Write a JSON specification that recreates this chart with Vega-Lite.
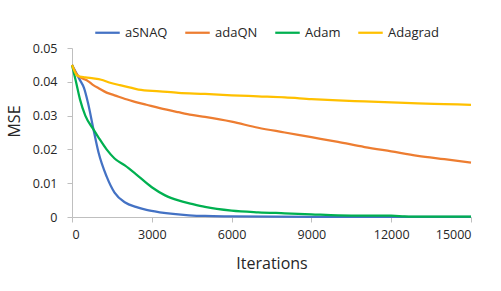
{
  "$schema": "https://vega.github.io/schema/vega-lite/v6.json",
  "width": 399,
  "height": 169,
  "autosize": {"type": "none"},
  "padding": {"left": 72, "top": 48, "right": 30, "bottom": 74},
  "background": "white",
  "config": {
    "view": {"stroke": null},
    "font": "Open Sans",
    "axis": {
      "domainColor": "#BFBFBF",
      "tickColor": "#BFBFBF",
      "domainWidth": 1,
      "tickWidth": 1,
      "tickSize": 5,
      "grid": false,
      "labelFont": "Open Sans",
      "labelFontSize": 12.5,
      "labelColor": "#262626",
      "titleFont": "Open Sans",
      "titleFontSize": 16,
      "titleFontWeight": "normal",
      "titleColor": "#262626"
    }
  },
  "data": {
    "values": [
      {"s": "aSNAQ", "x": 0, "y": 0.045},
      {"s": "aSNAQ", "x": 300, "y": 0.0405},
      {"s": "aSNAQ", "x": 450, "y": 0.0382},
      {"s": "aSNAQ", "x": 600, "y": 0.0338},
      {"s": "aSNAQ", "x": 800, "y": 0.0262},
      {"s": "aSNAQ", "x": 1000, "y": 0.019},
      {"s": "aSNAQ", "x": 1300, "y": 0.012},
      {"s": "aSNAQ", "x": 1600, "y": 0.0072},
      {"s": "aSNAQ", "x": 2000, "y": 0.0043},
      {"s": "aSNAQ", "x": 2400, "y": 0.003},
      {"s": "aSNAQ", "x": 2800, "y": 0.0021},
      {"s": "aSNAQ", "x": 3300, "y": 0.0014},
      {"s": "aSNAQ", "x": 3800, "y": 0.0009},
      {"s": "aSNAQ", "x": 4400, "y": 0.0005},
      {"s": "aSNAQ", "x": 5000, "y": 0.0003},
      {"s": "aSNAQ", "x": 6000, "y": 0.0002},
      {"s": "aSNAQ", "x": 7500, "y": 0.0001},
      {"s": "aSNAQ", "x": 9000, "y": 0.00005},
      {"s": "aSNAQ", "x": 11000, "y": 0.00003},
      {"s": "aSNAQ", "x": 13000, "y": 0.00002},
      {"s": "aSNAQ", "x": 15000, "y": 0.00001},

      {"s": "adaQN", "x": 0, "y": 0.045},
      {"s": "adaQN", "x": 200, "y": 0.042},
      {"s": "adaQN", "x": 400, "y": 0.041},
      {"s": "adaQN", "x": 600, "y": 0.0402},
      {"s": "adaQN", "x": 800, "y": 0.039},
      {"s": "adaQN", "x": 1000, "y": 0.0381},
      {"s": "adaQN", "x": 1300, "y": 0.0368},
      {"s": "adaQN", "x": 1600, "y": 0.036},
      {"s": "adaQN", "x": 2000, "y": 0.0349},
      {"s": "adaQN", "x": 2400, "y": 0.034},
      {"s": "adaQN", "x": 2800, "y": 0.0332},
      {"s": "adaQN", "x": 3300, "y": 0.0322},
      {"s": "adaQN", "x": 4000, "y": 0.031},
      {"s": "adaQN", "x": 4500, "y": 0.0302},
      {"s": "adaQN", "x": 5000, "y": 0.0296},
      {"s": "adaQN", "x": 6000, "y": 0.0282},
      {"s": "adaQN", "x": 7000, "y": 0.0264},
      {"s": "adaQN", "x": 8000, "y": 0.025},
      {"s": "adaQN", "x": 9000, "y": 0.0236},
      {"s": "adaQN", "x": 10000, "y": 0.0222},
      {"s": "adaQN", "x": 11000, "y": 0.0207},
      {"s": "adaQN", "x": 12000, "y": 0.0194},
      {"s": "adaQN", "x": 13000, "y": 0.0181},
      {"s": "adaQN", "x": 14000, "y": 0.0171},
      {"s": "adaQN", "x": 15000, "y": 0.0161},

      {"s": "Adam", "x": 0, "y": 0.045},
      {"s": "Adam", "x": 150, "y": 0.040},
      {"s": "Adam", "x": 300, "y": 0.0348},
      {"s": "Adam", "x": 500, "y": 0.030},
      {"s": "Adam", "x": 800, "y": 0.026},
      {"s": "Adam", "x": 1000, "y": 0.0235},
      {"s": "Adam", "x": 1300, "y": 0.020},
      {"s": "Adam", "x": 1600, "y": 0.0173},
      {"s": "Adam", "x": 2000, "y": 0.0152},
      {"s": "Adam", "x": 2400, "y": 0.0127},
      {"s": "Adam", "x": 3000, "y": 0.0088},
      {"s": "Adam", "x": 3500, "y": 0.0064},
      {"s": "Adam", "x": 4000, "y": 0.0049},
      {"s": "Adam", "x": 4500, "y": 0.0039},
      {"s": "Adam", "x": 5000, "y": 0.003},
      {"s": "Adam", "x": 6000, "y": 0.0019},
      {"s": "Adam", "x": 7000, "y": 0.0014},
      {"s": "Adam", "x": 8000, "y": 0.0011},
      {"s": "Adam", "x": 9000, "y": 0.0008},
      {"s": "Adam", "x": 10000, "y": 0.0005},
      {"s": "Adam", "x": 11000, "y": 0.0004},
      {"s": "Adam", "x": 12000, "y": 0.0004},
      {"s": "Adam", "x": 12500, "y": 0.0002},
      {"s": "Adam", "x": 13000, "y": 0.0001},
      {"s": "Adam", "x": 15000, "y": 0.0001},

      {"s": "Adagrad", "x": 0, "y": 0.045},
      {"s": "Adagrad", "x": 200, "y": 0.0418},
      {"s": "Adagrad", "x": 500, "y": 0.0413},
      {"s": "Adagrad", "x": 800, "y": 0.041},
      {"s": "Adagrad", "x": 1100, "y": 0.0406},
      {"s": "Adagrad", "x": 1400, "y": 0.0398},
      {"s": "Adagrad", "x": 1800, "y": 0.039},
      {"s": "Adagrad", "x": 2200, "y": 0.0383},
      {"s": "Adagrad", "x": 2500, "y": 0.0377},
      {"s": "Adagrad", "x": 3300, "y": 0.0372},
      {"s": "Adagrad", "x": 4000, "y": 0.0367},
      {"s": "Adagrad", "x": 5000, "y": 0.0364},
      {"s": "Adagrad", "x": 6000, "y": 0.036},
      {"s": "Adagrad", "x": 7000, "y": 0.0357},
      {"s": "Adagrad", "x": 8000, "y": 0.0354},
      {"s": "Adagrad", "x": 9000, "y": 0.0349},
      {"s": "Adagrad", "x": 10000, "y": 0.0345},
      {"s": "Adagrad", "x": 11000, "y": 0.0342},
      {"s": "Adagrad", "x": 12000, "y": 0.0339},
      {"s": "Adagrad", "x": 13000, "y": 0.0336},
      {"s": "Adagrad", "x": 14000, "y": 0.0334},
      {"s": "Adagrad", "x": 15000, "y": 0.0332}
    ]
  },
  "mark": {"type": "line", "strokeWidth": 2.25, "interpolate": "monotone"},
  "encoding": {
    "x": {
      "field": "x",
      "type": "quantitative",
      "scale": {"domain": [0, 15000], "nice": false, "zero": true},
      "axis": {
        "values": [0, 3000, 6000, 9000, 12000, 15000],
        "format": "d",
        "labelPadding": 6,
        "title": "Iterations",
        "titlePadding": 15
      }
    },
    "y": {
      "field": "y",
      "type": "quantitative",
      "scale": {"domain": [0, 0.05], "nice": false},
      "axis": {
        "values": [0, 0.01, 0.02, 0.03, 0.04, 0.05],
        "format": ".2~f",
        "labelPadding": 10,
        "title": "MSE",
        "titleX": -58,
        "titleY": 73,
        "titleBaseline": "middle",
        "titleAngle": -90
      }
    },
    "color": {
      "field": "s",
      "type": "nominal",
      "sort": ["aSNAQ", "adaQN", "Adam", "Adagrad"],
      "scale": {
        "domain": ["aSNAQ", "adaQN", "Adam", "Adagrad"],
        "range": ["#4472C4", "#ED7D31", "#00B050", "#FFC000"]
      },
      "legend": {
        "title": null,
        "orient": "none",
        "direction": "horizontal",
        "legendX": 22,
        "legendY": -29,
        "padding": 0,
        "symbolType": "stroke",
        "symbolSize": 600,
        "symbolStrokeWidth": 2.25,
        "labelFontSize": 13,
        "labelColor": "#262626",
        "labelFont": "Open Sans",
        "labelOffset": 4,
        "columnPadding": 12
      }
    }
  }
}
